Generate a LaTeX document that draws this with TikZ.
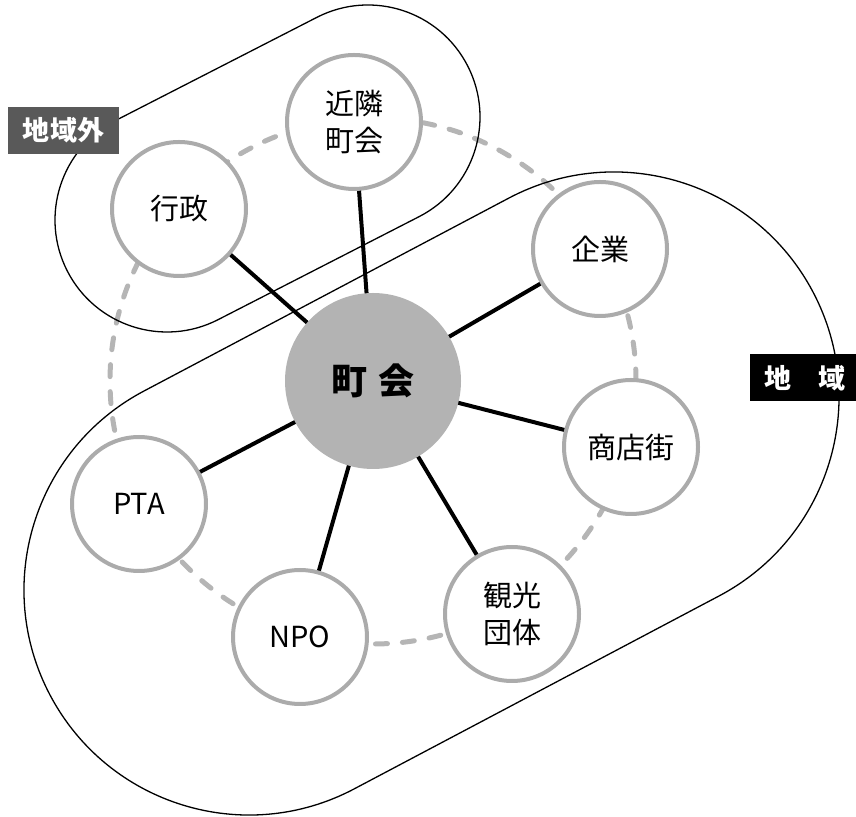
\documentclass[tikz,border=0pt]{standalone}
\usepackage{fontspec}
\setmainfont{Noto Sans CJK JP}
\usetikzlibrary{calc,backgrounds}
\definecolor{ringgray}{HTML}{ABABAB}
\definecolor{dashgray}{HTML}{B5B5B5}
\definecolor{hubgray}{HTML}{B3B3B3}
\definecolor{tagdark}{HTML}{595959}
\tikzset{
  member/.style={circle, draw=ringgray, line width=4pt, fill=white,
    minimum size=134pt, inner sep=0pt, align=center,
    font=\fontsize{29}{37}\selectfont},
  hub/.style={circle, fill=hubgray, minimum size=176pt, inner sep=0pt,
    font=\fontsize{36}{40}\selectfont\bfseries},
  spoke/.style={line width=4pt, black},
  ring/.style={dashgray, line width=5pt, dash pattern=on 12pt off 15pt, line cap=round},
  zone/.style={black, line width=1.3pt},
  tagbox/.style={inner sep=0pt, minimum height=47pt, text=white,
    font=\fontsize{27}{30}\selectfont\bfseries}
}
\newcommand{\stadium}[5]{% L, R, angle, radius, style
  \draw[#5] ($(#2)+(#3-90:#4)$) arc[start angle=#3-90, end angle=#3+90, radius=#4]
    -- ($(#1)+(#3+90:#4)$) arc[start angle=#3+90, end angle=#3+270, radius=#4] -- cycle;
}
\begin{document}
\begin{tikzpicture}[x=1pt,y=1pt]
\useasboundingbox (0,0) rectangle (856,816);

% nodes
\node[hub] (hub) at (373,435) {町\hspace{12pt}会};
\node[member] (kinrin) at (354,694) {近隣\\町会};
\node[member] (gyosei) at (179,607) {行政};
\node[member] (kigyo) at (600,567) {企業};
\node[member] (shoten) at (631,369) {商店街};
\node[member] (kanko) at (512,202) {観光\\団体};
\node[member] (npo) at (300,179) {NPO};
\node[member] (pta) at (139,312) {PTA};

\begin{pgfonlayer}{background}
  \coordinate (ringc) at (373,435);
  \draw[ring] (ringc) circle[radius=263pt];
  \coordinate (bigL) at (249,226);
  \coordinate (bigR) at (614,419);
  \stadium{bigL}{bigR}{27.87}{225pt}{zone}
  \coordinate (smallL) at (167,596);
  \coordinate (smallR) at (368,699);
  \stadium{smallL}{smallR}{27.13}{112pt}{zone}
  \foreach \m in {kinrin,gyosei,kigyo,shoten,kanko,npo,pta}
    \draw[spoke] (hub.center) -- (\m.center);
\end{pgfonlayer}

% labels
\node[tagbox, fill=tagdark, minimum width=111pt] (tagout) at (63.5,685.5) {地域外};
\node[tagbox, fill=black, minimum width=110pt] (tagin) at (805,438) {地　域};
\end{tikzpicture}
\end{document}
